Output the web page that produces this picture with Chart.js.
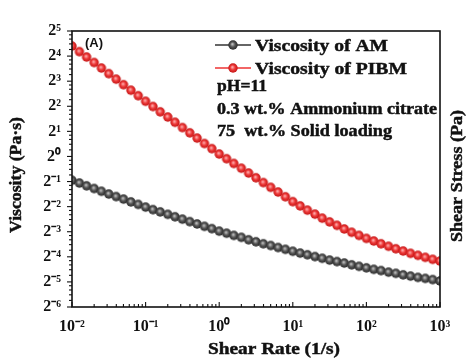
<!DOCTYPE html>
<html><head><meta charset="utf-8">
<script src="https://cdn.jsdelivr.net/npm/chart.js@4.4.1/dist/chart.umd.min.js"></script>
<style>html,body{margin:0;padding:0;background:#fff;}canvas{display:block;}</style>
</head><body>
<canvas id="c" width="466" height="358"></canvas>
<script>
// ---- data ----
const shearRate = [0.01,0.0126,0.0158,0.02,0.0251,0.0316,0.0398,0.0501,0.0631,0.0794,
  0.1,0.126,0.158,0.2,0.251,0.316,0.398,0.501,0.631,0.794,
  1,1.26,1.58,2,2.51,3.16,3.98,5.01,6.31,7.94,
  10,12.6,15.8,20,25.1,31.6,39.8,50.1,63.1,79.4,
  100,126,158,200,251,316,398,501,631,794,1000];
const viscosityAM = [0.518,0.480,0.444,0.412,0.382,0.354,0.330,0.308,0.285,0.266,
  0.247,0.230,0.216,0.202,0.189,0.177,0.165,0.155,0.145,0.136,
  0.127,0.120,0.113,0.107,0.100,0.0947,0.0896,0.0854,0.0808,0.0769,
  0.0728,0.0693,0.0661,0.0629,0.0600,0.0571,0.0548,0.0526,0.0501,0.0480,
  0.0461,0.0442,0.0427,0.0409,0.0396,0.0380,0.0367,0.0354,0.0344,0.0333,0.0321];
const viscosityPIBM = [21.1,18.1,15.6,13.4,11.5,9.85,8.46,7.26,6.23,5.35,
  4.59,3.97,3.43,2.97,2.57,2.22,1.92,1.66,1.43,1.24,
  1.07,0.939,0.824,0.722,0.633,0.555,0.486,0.426,0.374,0.328,
  0.287,0.255,0.227,0.203,0.182,0.164,0.149,0.135,0.123,0.113,
  0.104,0.0967,0.0896,0.0836,0.0780,0.0733,0.0688,0.0651,0.0616,0.0583,0.0555];
const seriesLabels = ['Viscosity of AM','Viscosity of PIBM'];
const xTickValues = [0.01,0.1,1,10,100,1000];
const xTickLabels = ['10\u207B\u00B2','10\u207B\u00B9','10\u2070','10\u00B9','10\u00B2','10\u00B3'];
const yTickValues = [0.015625,0.03125,0.0625,0.125,0.25,0.5,1,2,4,8,16,32];
const yTickLabels = ['2\u207B\u2076','2\u207B\u2075','2\u207B\u2074','2\u207B\u00B3','2\u207B\u00B2','2\u207B\u00B9','2\u2070','2\u00B9','2\u00B2','2\u00B3','2\u2074','2\u2075'];
const noteLines = ['pH=11','0.3 wt.% Ammonium citrate','75  wt.% Solid loading'];
const panelLabel = '(A)';
const xTitle = 'Shear Rate (1/s)';
const yTitle = 'Viscosity (Pa\u00B7s)';
const y2Title = 'Shear Stress (Pa)';

const SERIF = '"Liberation Serif","Times New Roman",serif';

function sphere(r, dark, mid, light) {
  const s = Math.ceil(r * 2) + 2;
  const c = document.createElement('canvas'); c.width = c.height = s;
  const g = c.getContext('2d'); const cx = s / 2, cy = s / 2;
  const grd = g.createRadialGradient(cx - r * 0.15, cy - r * 0.2, r * 0.05, cx, cy, r);
  grd.addColorStop(0, light); grd.addColorStop(0.5, mid); grd.addColorStop(1, dark);
  g.fillStyle = grd; g.beginPath(); g.arc(cx, cy, r, 0, Math.PI * 2); g.fill();
  return c;
}
const grayBall = sphere(4.7, '#2a2a2a', '#555', '#c4c4c4');
const redBall = sphere(4.7, '#c41616', '#ec3636', '#ffb0b0');

function findIdx(arr, v) { return arr.findIndex(d => Math.abs(d - v) / d < 1e-6); }

// draw text stretched horizontally to a target width (bold look via thin stroke)
function fitText(ctx, text, x, y, w) {
  const m = ctx.measureText(text).width;
  const sx = w / m;
  ctx.save(); ctx.translate(x, y); ctx.scale(sx, 1);
  ctx.lineWidth = 0.45; ctx.strokeStyle = ctx.fillStyle;
  ctx.fillText(text, 0, 0); ctx.strokeText(text, 0, 0);
  ctx.restore();
}

const boxAndTicks = {
  id: 'boxAndTicks',
  afterDraw(chart) {
    const ctx = chart.ctx, a = chart.chartArea;
    const xs = chart.scales.x, ys = chart.scales.y;
    ctx.save();
    ctx.strokeStyle = '#111'; ctx.lineWidth = 1.6;
    ctx.strokeRect(a.left, a.top, a.right - a.left, a.bottom - a.top);
    ctx.lineWidth = 1.1;
    xs.ticks.forEach(t => {
      const px = xs.getPixelForValue(t.value);
      const major = findIdx(xTickValues, t.value) >= 0;
      ctx.beginPath(); ctx.moveTo(px, a.bottom); ctx.lineTo(px, a.bottom - (major ? 5 : 3)); ctx.stroke();
    });
    ys.ticks.forEach(t => {
      const py = ys.getPixelForValue(t.value);
      const major = findIdx(yTickValues, t.value) >= 0;
      ctx.beginPath(); ctx.moveTo(a.left, py); ctx.lineTo(a.left - (major ? 5 : 3), py); ctx.stroke();
    });
    // panel label
    ctx.fillStyle = '#111';
    ctx.font = 'bold 13px "Liberation Sans", Arial, sans-serif';
    ctx.textBaseline = 'alphabetic'; ctx.textAlign = 'left';
    ctx.fillText(panelLabel, 85, 47);
    // legend
    const balls = [grayBall, redBall];
    const lineCols = ['#333', '#e33'];
    const rowsY = [45, 68];
    const legW = [133, 152];
    ctx.font = 'bold 17px ' + SERIF;
    chart.data.datasets.forEach((ds, i) => {
      const y = rowsY[i];
      ctx.strokeStyle = lineCols[i]; ctx.lineWidth = 1.3;
      ctx.beginPath(); ctx.moveTo(215, y); ctx.lineTo(251, y); ctx.stroke();
      ctx.drawImage(balls[i], 233 - balls[i].width / 2, y - balls[i].height / 2);
      ctx.fillStyle = '#111';
      fitText(ctx, ds.label, 255, y + 6, legW[i]);
    });
    ctx.font = 'bold 16px ' + SERIF;
    const noteY = [91, 114, 136];
    const noteW = [50, 220, 175];
    noteLines.forEach((s, i) => fitText(ctx, s, 217, noteY[i], noteW[i]));
    // axis titles
    ctx.font = 'bold 17px ' + SERIF;
    ctx.textBaseline = 'middle';
    const xw = 132;
    fitText(ctx, xTitle, 274 - xw / 2, 350, xw);
    ctx.save(); ctx.translate(17, 175); ctx.rotate(-Math.PI / 2);
    fitText(ctx, yTitle, -58, 0, 116); ctx.restore();
    ctx.save(); ctx.translate(449, 176); ctx.rotate(-Math.PI / 2);
    ctx.textBaseline = 'top'; fitText(ctx, y2Title, -66, 0, 132); ctx.restore();
    ctx.restore();
  }
};

new Chart(document.getElementById('c'), {
  type: 'line',
  data: {
    datasets: [
      { label: seriesLabels[0], data: shearRate.map((x, i) => ({ x, y: viscosityAM[i] })),
        borderColor: '#333', borderWidth: 1, pointStyle: grayBall, pointRadius: 4.7, tension: 0 },
      { label: seriesLabels[1], data: shearRate.map((x, i) => ({ x, y: viscosityPIBM[i] })),
        borderColor: '#e33', borderWidth: 1, pointStyle: redBall, pointRadius: 4.7, tension: 0 }
    ]
  },
  options: {
    responsive: false, animation: false, devicePixelRatio: 1,
    layout: { padding: { left: 0, right: 26, top: 31, bottom: 0 } },
    plugins: { legend: { display: false }, tooltip: { enabled: false } },
    scales: {
      x: {
        type: 'logarithmic', min: 0.01, max: 1000,
        afterBuildTicks(s) {
          const t = [];
          xTickValues.forEach((d, i) => {
            t.push({ value: d });
            if (i < xTickValues.length - 1) for (let m = 2; m <= 9; m++) t.push({ value: d * m });
          });
          s.ticks = t;
        },
        afterFit(s) { s.height = 51; },
        grid: { display: false, drawTicks: false },
        border: { display: false },
        ticks: {
          autoSkip: false, maxRotation: 0, padding: 10, color: '#111',
          font: { family: SERIF, size: 16, weight: 'bold' },
          callback(v) { const i = findIdx(xTickValues, v); return i >= 0 ? xTickLabels[i] : ''; }
        }
      },
      y: {
        type: 'logarithmic', min: 0.015625, max: 32,
        afterBuildTicks(s) {
          const t = [];
          yTickValues.forEach((d, i) => {
            t.push({ value: d });
            if (i < yTickValues.length - 1) [1.2, 1.4, 1.6, 1.8].forEach(m => t.push({ value: d * m }));
          });
          s.ticks = t;
        },
        afterFit(s) { s.width = 72; },
        grid: { display: false, drawTicks: false },
        border: { display: false },
        ticks: {
          autoSkip: false, padding: 11, color: '#111',
          font: { family: SERIF, size: 16, weight: 'bold' },
          callback(v) { const i = findIdx(yTickValues, v); return i >= 0 ? yTickLabels[i] : ''; }
        }
      }
    }
  },
  plugins: [boxAndTicks]
});
</script>
</body></html>
